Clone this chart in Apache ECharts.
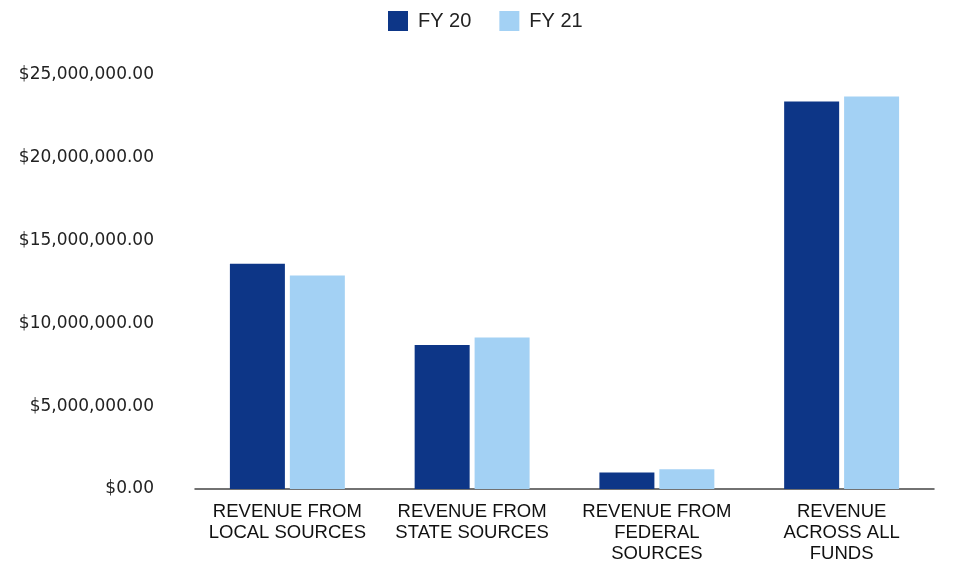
<!DOCTYPE html>
<html>
<head>
<meta charset="utf-8">
<script src="https://cdn.jsdelivr.net/npm/echarts@6/dist/echarts.min.js"></script>
<style>
  html, body { margin: 0; padding: 0; background: #fff; }
  #main { width: 959px; height: 564px; }
</style>
</head>
<body>
<div id="main"></div>
<script>
// data
var categories = [
    'REVENUE FROM\nLOCAL SOURCES',
    'REVENUE FROM\nSTATE SOURCES',
    'REVENUE FROM\nFEDERAL\nSOURCES',
    'REVENUE\nACROSS ALL\nFUNDS'
];
var seriesNames = ['FY 20', 'FY 21'];
var fy20 = [13600000, 8700000, 1000000, 23400000];
var fy21 = [12900000, 9150000, 1200000, 23700000];
var yTicks = [0, 5000000, 10000000, 15000000, 20000000, 25000000];

var myChart = echarts.init(document.getElementById('main'));

function money(v) {
    return '$' + v.toLocaleString('en-US', { minimumFractionDigits: 2, maximumFractionDigits: 2 });
}

var option = {
    backgroundColor: '#fff',
    textStyle: { fontFamily: 'Liberation Sans, Arial, sans-serif' },
    legend: {
        top: 6,
        left: 383,
        itemWidth: 20,
        itemHeight: 20,
        itemGap: 28,
        icon: 'rect',
        textStyle: { fontSize: 20, color: '#222', padding: [0, 0, 0, 5] },
        data: seriesNames
    },
    grid: {
        left: 195,
        right: 25,
        top: 75,
        bottom: 74
    },
    xAxis: {
        type: 'category',
        data: categories,
        axisLine: { lineStyle: { color: '#444', width: 1.5 } },
        axisTick: { show: false },
        axisLabel: {
            color: '#111',
            fontSize: 18.5,
            lineHeight: 21,
            margin: 12,
            interval: 0
        }
    },
    yAxis: {
        type: 'value',
        min: yTicks[0],
        max: yTicks[yTicks.length - 1],
        interval: yTicks[1] - yTicks[0],
        axisLine: { show: false },
        axisTick: { show: false },
        splitLine: { show: false },
        axisLabel: {
            color: '#222',
            fontSize: 17,
            fontFamily: 'DejaVu Sans, sans-serif',
            margin: 41,
            formatter: money
        }
    },
    series: [{
        name: seriesNames[0],
        type: 'bar',
        data: fy20,
        barWidth: 55,
        barGap: '9%',
        itemStyle: { color: '#0d3687' }
    }, {
        name: seriesNames[1],
        type: 'bar',
        data: fy21,
        barWidth: 55,
        itemStyle: { color: '#a3d1f4' }
    }]
};

myChart.setOption(option);
</script>
</body>
</html>
